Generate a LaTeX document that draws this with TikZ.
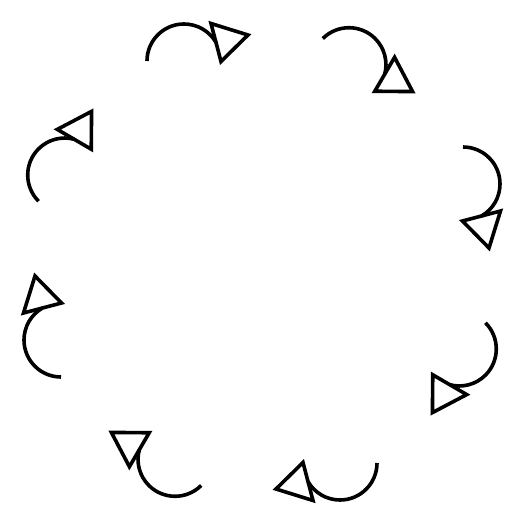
\documentclass[tikz,border=0pt]{standalone}
\begin{document}
\begin{tikzpicture}[x=1pt,y=1pt,
  glyphline/.style={line width=3.6pt, black},
  glyphtip/.style={line width=3.6pt, black, line join=miter}]
\useasboundingbox (-262,-263) rectangle (263,262);
\foreach \k in {0,...,7}{
  \begin{scope}[rotate=45*\k]
    \coordinate (s\k) at (115,-201);
    \draw[glyphline] (s\k) arc[start angle=0,end angle=-150,radius=37] coordinate (e\k);
    \draw[glyphtip] (41,-200.5) -- (14,-227) -- (51,-238.5) -- cycle;
  \end{scope}
}
\end{tikzpicture}
\end{document}
